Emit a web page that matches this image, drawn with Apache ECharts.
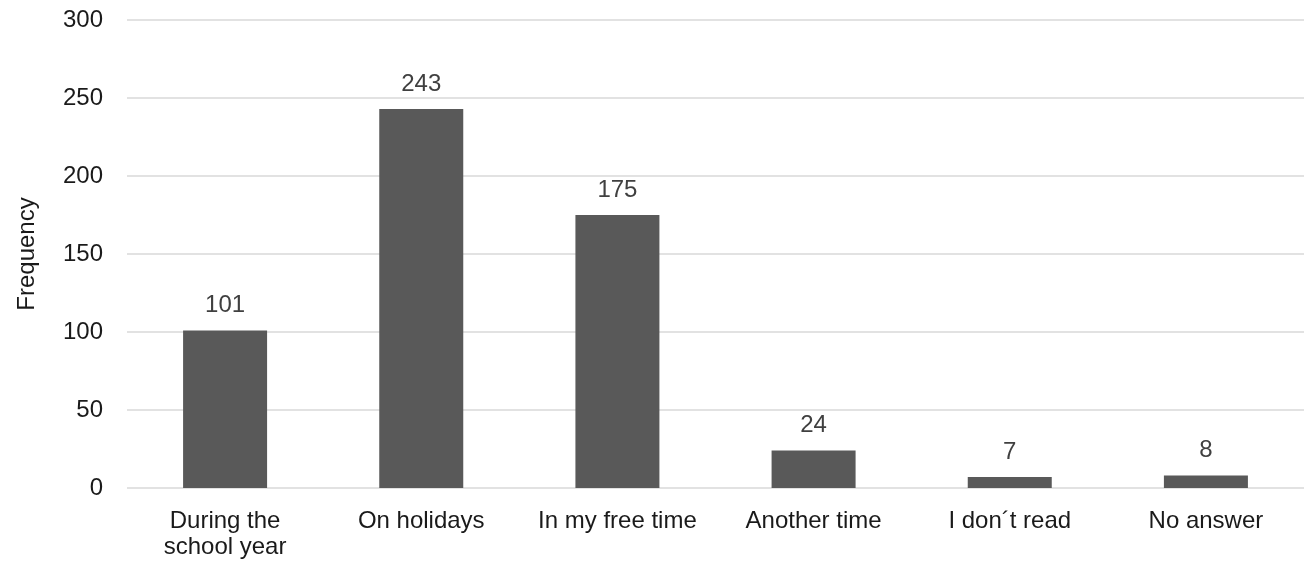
<!DOCTYPE html>
<html>
<head>
<meta charset="utf-8">
<script src="https://cdn.jsdelivr.net/npm/echarts@6/dist/echarts.min.js"></script>
<style>
  html, body { margin: 0; padding: 0; background: #fff; }
  #chart { width: 1315px; height: 573px; }
</style>
</head>
<body>
<div id="chart"></div>
<script>
const categories = ['During the\nschool year', 'On holidays', 'In my free time', 'Another time', 'I don\u00b4t read', 'No answer'];
const frequency = [101, 243, 175, 24, 7, 8];
const yTicks = [0, 50, 100, 150, 200, 250, 300];

const chart = echarts.init(document.getElementById('chart'));
const font = 'Liberation Sans, Arial, sans-serif';

chart.setOption({
  animation: false,
  grid: { left: 127, right: 11, top: 20, bottom: 85 },
  xAxis: {
    type: 'category',
    data: categories,
    axisLine: { show: false },
    axisTick: { show: false },
    axisLabel: { color: '#1a1a1a', fontSize: 24, fontFamily: font, margin: 20, lineHeight: 26, interval: 0 }
  },
  yAxis: {
    type: 'value',
    min: yTicks[0],
    max: yTicks[yTicks.length - 1],
    interval: 50,
    name: 'Frequency',
    nameLocation: 'middle',
    nameGap: 88,
    nameRotate: 90,
    nameTextStyle: { color: '#1a1a1a', fontSize: 24, fontFamily: font },
    axisLine: { show: false },
    axisTick: { show: false },
    axisLabel: { color: '#1a1a1a', fontSize: 24, fontFamily: font, margin: 24 },
    splitLine: { lineStyle: { color: '#e2e2e2', width: 2 } }
  },
  series: [{
    type: 'bar',
    data: frequency,
    barWidth: 84,
    itemStyle: { color: '#595959' },
    label: { show: true, position: 'top', distance: 13, color: '#404040', fontSize: 24, fontFamily: font }
  }]
});

window.onresize = () => chart.resize();
</script>
</body>
</html>
